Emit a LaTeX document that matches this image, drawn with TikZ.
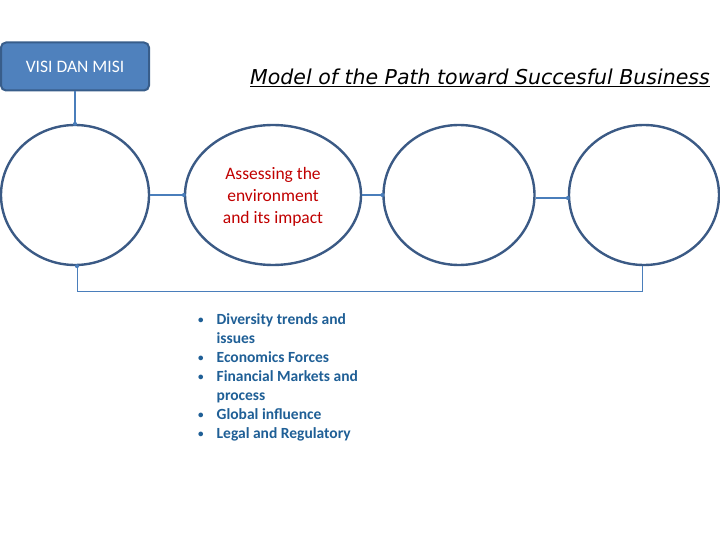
\documentclass[tikz,border=0pt]{standalone}
\usepackage{fontspec}
\setmainfont{Carlito}
\newfontfamily\titlefont{DejaVu Sans}
\definecolor{boxfill}{HTML}{4F81BD}
\definecolor{boxedge}{HTML}{385D8A}
\definecolor{ringcol}{HTML}{3B5A85}
\definecolor{linkcol}{HTML}{4A7EBB}
\definecolor{redtxt}{HTML}{C00000}
\definecolor{bluetxt}{HTML}{1F5F96}
\newcommand{\smallbul}{\raisebox{1pt}{\fontsize{11}{11}\selectfont\textbullet}}
\begin{document}
\begin{tikzpicture}[x=1pt,y=-1pt,
  ring/.style={ellipse,draw=ringcol,line width=2.4pt,inner sep=0pt},
  link/.style={draw=linkcol,line width=1.3pt},
  enddot/.style={fill=linkcol,circle,inner sep=0pt,minimum size=4pt}]
\usetikzlibrary{shapes.geometric}
\useasboundingbox (0,0) rectangle (720,540);
\node[draw=boxedge,fill=boxfill,line width=2pt,rounded corners=5pt,minimum width=148pt,minimum height=48pt,inner sep=0pt,text=white,font=\fontsize{17.5}{19}\selectfont] (vm) at (75,66.5) {VISI DAN MISI};
\node[anchor=base west,inner sep=0pt,font=\titlefont\itshape\fontsize{20.5}{22}\selectfont] (title) at (250,85) {\underline{Model of the Path toward Succesful Business}};
\node[ring,minimum width=148pt,minimum height=140pt] (c1) at (75,195) {};
\node[ring,minimum width=176pt,minimum height=140pt] (c2) at (273,195) {};
\node[text=redtxt,align=center,font=\fontsize{17.5}{22}\selectfont,inner sep=0pt] (c2text) at ([yshift=-2pt]c2.center) {Assessing the\\environment\\and its impact};
\node[ring,minimum width=151pt,minimum height=140pt] (c3) at (459,195) {};
\node[ring,minimum width=150pt,minimum height=140pt] (c4) at (644,195) {};
\draw[link] (vm.south) -- (c1.north);
\draw[link] (c1.east) -- (c2.west);
\draw[link] (c2.east) -- (c3.west);
\draw[link] ([yshift=-3pt]c3.east) -- ([yshift=-3pt]c4.west);
\coordinate (bl) at (77,291);
\coordinate (br) at (642,291);
\draw[draw=linkcol,line width=1pt] (c1.south -| bl) -- (bl) -- (br) -- (c4.south -| br);
\node[enddot] at (c1.north) {};
\node[enddot] at (c2.west) {};
\node[enddot] at (c3.west) {};
\node[enddot] at ([yshift=-3pt]c4.west) {};
\node[enddot] at (c1.south -| bl) {};
\node[anchor=north west,inner sep=0pt,text=bluetxt,font=\bfseries\fontsize{15.5}{19}\selectfont] (list) at (198,311) {%
\begin{tabular}{@{}l@{\hspace{13pt}}l@{}}
\smallbul & Diversity trends and\\
 & issues\\
\smallbul & Economics Forces\\
\smallbul & Financial Markets and\\
 & process\\
\smallbul & Global influence\\
\smallbul & Legal and Regulatory
\end{tabular}};
\end{tikzpicture}
\end{document}
